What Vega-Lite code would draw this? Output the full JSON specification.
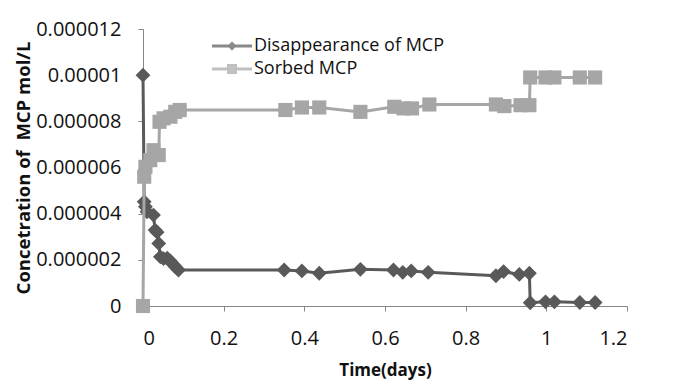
{
  "$schema": "https://vega.github.io/schema/vega-lite/v6.json",
  "width": 484,
  "height": 277,
  "autosize": "none",
  "padding": {"left": 143, "top": 29, "right": 73, "bottom": 79},
  "background": "white",
  "config": {
    "view": {"stroke": null},
    "font": "Open Sans",
    "axis": {
      "grid": false,
      "domainColor": "#868686",
      "tickColor": "#868686",
      "tickSize": 5,
      "labelFont": "Open Sans",
      "labelFontSize": 20,
      "labelColor": "#111111",
      "titleFont": "Open Sans",
      "titleFontWeight": "bold",
      "titleColor": "#111111"
    }
  },
  "data": {
    "values": [
      {"t": 0, "c": 0.00001, "series": "Disappearance of MCP"},
      {"t": 0.003, "c": 0.00000452, "series": "Disappearance of MCP"},
      {"t": 0.006, "c": 0.0000043, "series": "Disappearance of MCP"},
      {"t": 0.01, "c": 0.00000408, "series": "Disappearance of MCP"},
      {"t": 0.026, "c": 0.00000394, "series": "Disappearance of MCP"},
      {"t": 0.03, "c": 0.00000329, "series": "Disappearance of MCP"},
      {"t": 0.035, "c": 0.0000032, "series": "Disappearance of MCP"},
      {"t": 0.039, "c": 0.00000271, "series": "Disappearance of MCP"},
      {"t": 0.043, "c": 0.00000213, "series": "Disappearance of MCP"},
      {"t": 0.051, "c": 0.00000205, "series": "Disappearance of MCP"},
      {"t": 0.06, "c": 0.00000207, "series": "Disappearance of MCP"},
      {"t": 0.068, "c": 0.00000195, "series": "Disappearance of MCP"},
      {"t": 0.072, "c": 0.00000185, "series": "Disappearance of MCP"},
      {"t": 0.08, "c": 0.0000017, "series": "Disappearance of MCP"},
      {"t": 0.088, "c": 0.00000156, "series": "Disappearance of MCP"},
      {"t": 0.35, "c": 0.00000156, "series": "Disappearance of MCP"},
      {"t": 0.394, "c": 0.00000152, "series": "Disappearance of MCP"},
      {"t": 0.437, "c": 0.00000142, "series": "Disappearance of MCP"},
      {"t": 0.539, "c": 0.00000159, "series": "Disappearance of MCP"},
      {"t": 0.621, "c": 0.00000156, "series": "Disappearance of MCP"},
      {"t": 0.644, "c": 0.00000146, "series": "Disappearance of MCP"},
      {"t": 0.665, "c": 0.00000152, "series": "Disappearance of MCP"},
      {"t": 0.707, "c": 0.00000146, "series": "Disappearance of MCP"},
      {"t": 0.875, "c": 0.00000131, "series": "Disappearance of MCP"},
      {"t": 0.894, "c": 0.00000149, "series": "Disappearance of MCP"},
      {"t": 0.933, "c": 0.00000137, "series": "Disappearance of MCP"},
      {"t": 0.958, "c": 0.00000142, "series": "Disappearance of MCP"},
      {"t": 0.96, "c": 0.00000014, "series": "Disappearance of MCP"},
      {"t": 0.998, "c": 0.00000018, "series": "Disappearance of MCP"},
      {"t": 1.02, "c": 0.00000018, "series": "Disappearance of MCP"},
      {"t": 1.083, "c": 0.00000015, "series": "Disappearance of MCP"},
      {"t": 1.121, "c": 0.00000015, "series": "Disappearance of MCP"},
      {"t": 0, "c": 0, "series": "Sorbed MCP"},
      {"t": 0.003, "c": 0.0000056, "series": "Sorbed MCP"},
      {"t": 0.006, "c": 0.00000603, "series": "Sorbed MCP"},
      {"t": 0.018, "c": 0.00000632, "series": "Sorbed MCP"},
      {"t": 0.026, "c": 0.00000675, "series": "Sorbed MCP"},
      {"t": 0.039, "c": 0.00000654, "series": "Sorbed MCP"},
      {"t": 0.041, "c": 0.00000798, "series": "Sorbed MCP"},
      {"t": 0.051, "c": 0.00000813, "series": "Sorbed MCP"},
      {"t": 0.068, "c": 0.0000082, "series": "Sorbed MCP"},
      {"t": 0.08, "c": 0.00000841, "series": "Sorbed MCP"},
      {"t": 0.091, "c": 0.00000849, "series": "Sorbed MCP"},
      {"t": 0.353, "c": 0.00000849, "series": "Sorbed MCP"},
      {"t": 0.394, "c": 0.0000086, "series": "Sorbed MCP"},
      {"t": 0.437, "c": 0.0000086, "series": "Sorbed MCP"},
      {"t": 0.539, "c": 0.00000841, "series": "Sorbed MCP"},
      {"t": 0.623, "c": 0.00000863, "series": "Sorbed MCP"},
      {"t": 0.646, "c": 0.00000856, "series": "Sorbed MCP"},
      {"t": 0.667, "c": 0.00000856, "series": "Sorbed MCP"},
      {"t": 0.71, "c": 0.00000873, "series": "Sorbed MCP"},
      {"t": 0.875, "c": 0.00000873, "series": "Sorbed MCP"},
      {"t": 0.896, "c": 0.00000866, "series": "Sorbed MCP"},
      {"t": 0.936, "c": 0.0000087, "series": "Sorbed MCP"},
      {"t": 0.958, "c": 0.0000087, "series": "Sorbed MCP"},
      {"t": 0.96, "c": 0.0000099, "series": "Sorbed MCP"},
      {"t": 0.998, "c": 0.0000099, "series": "Sorbed MCP"},
      {"t": 1.02, "c": 0.0000099, "series": "Sorbed MCP"},
      {"t": 1.083, "c": 0.0000099, "series": "Sorbed MCP"},
      {"t": 1.121, "c": 0.0000099, "series": "Sorbed MCP"}
    ]
  },
  "encoding": {
    "x": {
      "field": "t",
      "type": "quantitative",
      "scale": {"domain": [0, 1.2], "nice": false, "zero": false},
      "axis": {
        "title": "Time(days)",
        "titleFontSize": 17,
        "values": [0, 0.2, 0.4, 0.6, 0.8, 1, 1.2],
        "format": "~f",
        "labelPadding": 17,
        "titlePadding": 14
      }
    },
    "y": {
      "field": "c",
      "type": "quantitative",
      "scale": {"domain": [0, 0.000012], "nice": false},
      "axis": {
        "title": "Concetration of \u00a0MCP mol/L",
        "titleFontSize": 18.5,
        "values": [0, 0.000002, 0.000004, 0.000006, 0.000008, 0.00001, 0.000012],
        "format": "~f",
        "labelPadding": 17,
        "titlePadding": 2
      }
    }
  },
  "layer": [
    {
      "transform": [{"filter": "datum.series == 'Disappearance of MCP'"}],
      "mark": {"type": "line", "color": "#595959", "strokeWidth": 3},
      "encoding": {}
    },
    {
      "transform": [{"filter": "datum.series == 'Disappearance of MCP'"}],
      "mark": {"type": "point", "shape": "diamond", "filled": true, "opacity": 1, "color": "#595959", "size": 220},
      "encoding": {}
    },
    {
      "transform": [{"filter": "datum.series == 'Sorbed MCP'"}],
      "mark": {"type": "line", "color": "#a6a6a6", "strokeWidth": 3},
      "encoding": {}
    },
    {
      "transform": [{"filter": "datum.series == 'Sorbed MCP'"}],
      "mark": {"type": "point", "shape": "square", "filled": true, "opacity": 1, "color": "#a6a6a6", "size": 200},
      "encoding": {}
    },
    {
      "transform": [{"filter": "false"}],
      "mark": {"type": "point", "filled": true},
      "encoding": {
        "fill": {
          "field": "series",
          "type": "nominal",
          "scale": {"domain": ["Disappearance of MCP", "Sorbed MCP"], "range": ["#595959", "#a6a6a6"]},
          "legend": {
            "title": null,
            "orient": "none",
            "legendX": 80,
            "legendY": 8,
            "padding": 0,
            "symbolSize": 100,
            "symbolStrokeWidth": 3,
            "labelFontSize": 18,
            "labelFont": "Open Sans",
            "labelColor": "#111111",
            "labelLimit": 0,
            "labelOffset": 13,
            "rowPadding": 4
          }
        },
        "stroke": {
          "field": "series",
          "type": "nominal",
          "scale": {"domain": ["Disappearance of MCP", "Sorbed MCP"], "range": ["#595959", "#a6a6a6"]}
        },
        "shape": {
          "field": "series",
          "type": "nominal",
          "scale": {
            "domain": ["Disappearance of MCP", "Sorbed MCP"],
            "range": ["M-4,0L4,0M0,-0.5L0.5,0L0,0.5L-0.5,0Z", "M-4,0L4,0M-0.7,-0.7L0.7,-0.7L0.7,0.7L-0.7,0.7Z"]
          }
        }
      }
    }
  ]
}
